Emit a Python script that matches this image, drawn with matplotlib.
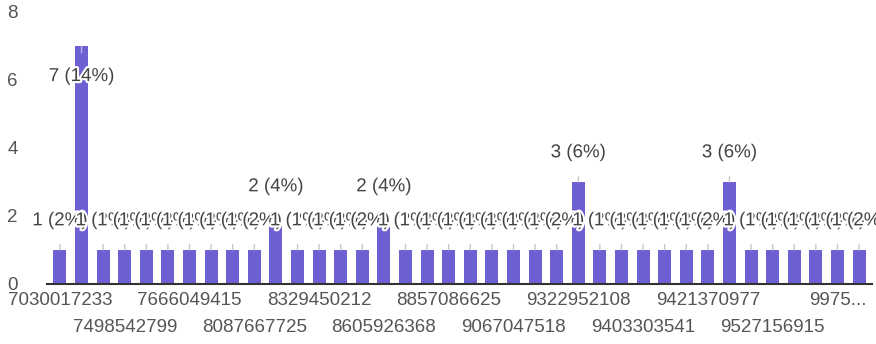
import matplotlib.pyplot as plt
import matplotlib.patheffects as pe

# answers (phone numbers) and how often each was given
categories = [
    '7030017233', '7207405560', '7310248871', '7498542799', '7503316624',
    '7588120943', '7666049415', '7738215560', '7977301284', '8087667725',
    '8149025537', '8260731149', '8329450212', '8421067735', '8503318842',
    '8605926368', '8688140273', '8754229016', '8857086625', '8903552174',
    '8977410638', '9067047518', '9145520396', '9234718850', '9322952108',
    '9346105527', '9381264409', '9403303541', '9410357286', '9415682013',
    '9421370977', '9448013652', '9490275318', '9527156915', '9611840527',
    '9788302164', '9975128306', '9990417623',
]
counts = [
    1, 7, 1, 1, 1, 1, 1, 1, 1, 1,
    2, 1, 1, 1, 1, 2, 1, 1, 1, 1,
    1, 1, 1, 1, 3, 1, 1, 1, 1, 1,
    1, 3, 1, 1, 1, 1, 1, 1,
]
y_ticks = [0, 2, 4, 6, 8]

total = sum(counts)
bar_color = '#6c60d2'
text_color = '#444444'
font = 'Liberation Sans'

fig = plt.figure(figsize=(8.76, 3.44), dpi=100)
ax = fig.add_axes([47 / 876, 60 / 344, 825 / 876, 272 / 344])

x = list(range(len(categories)))
ax.bar(x, counts, width=0.6, color=bar_color, zorder=2)

ax.set_xlim(-0.6, len(categories) - 0.4)
ax.set_ylim(0, 8)

# value labels with stems, later ones sit on top of earlier ones
for i, v in enumerate(counts):
    label = f'{v} ({round(100 * v / total)}%)'
    if v >= 6:
        off, stem = -22, '#b9b2ee'
    else:
        off, stem = 21, '#c8c8c8'
    ax.annotate(label, xy=(i, v), xytext=(0, off), textcoords='offset points',
                ha='center', va='center', fontsize=13.5, family=font,
                color=text_color, zorder=5 + i,
                path_effects=[pe.withStroke(linewidth=3, foreground='white')],
                arrowprops=dict(arrowstyle='-', color=stem, lw=1,
                                shrinkA=9, shrinkB=0))

# two staggered rows of category labels, every third bar
def short(c, i):
    return c[:4] + '...' if i == len(categories) - 2 else c

major = x[::6]
minor = x[3::6]
ax.set_xticks(major)
ax.set_xticklabels([short(categories[i], i) for i in major])
ax.set_xticks(minor, minor=True)
ax.set_xticklabels([short(categories[i], i) for i in minor], minor=True)
ax.tick_params(axis='x', which='major', length=0, pad=6, labelsize=13.5,
               labelcolor='#555555')
ax.tick_params(axis='x', which='minor', length=0, pad=25, labelsize=13.5,
               labelcolor='#555555')
for t in ax.get_xticklabels(which='both'):
    t.set_family(font)

ax.set_yticks(y_ticks)
ax.set_yticklabels([str(t) for t in y_ticks])
ax.tick_params(axis='y', length=0, pad=21, labelsize=13.5, labelcolor='#555555')
for t in ax.get_yticklabels():
    t.set_family(font)

for s in ['top', 'right', 'left']:
    ax.spines[s].set_visible(False)
ax.spines['bottom'].set_color('#333333')
ax.spines['bottom'].set_linewidth(1.5)
ax.spines['bottom'].set_zorder(3)

fig.savefig('out.png', dpi=100, facecolor='white')
